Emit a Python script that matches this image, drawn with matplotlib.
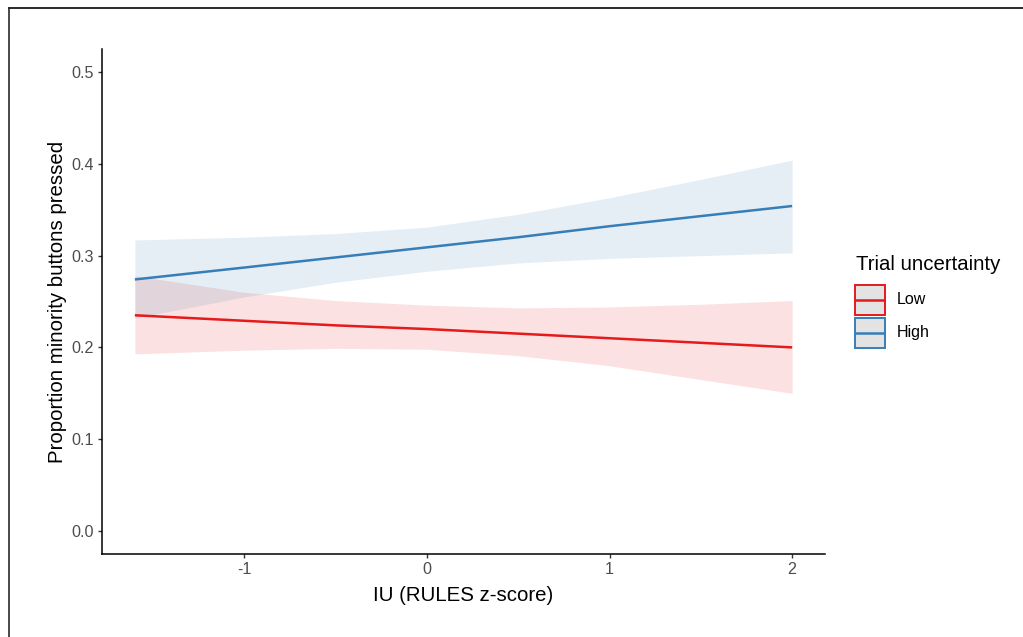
import matplotlib
matplotlib.use("Agg")
import matplotlib.pyplot as plt
from matplotlib.patches import Rectangle
from matplotlib.lines import Line2D

plt.rcParams['font.family'] = ['Liberation Sans', 'DejaVu Sans']

# ---- data ----
x_vals = [-1.6, -1.0, -0.5, 0.0, 0.5, 1.0, 1.5, 2.0]
high_fit = [0.274, 0.287, 0.298, 0.309, 0.320, 0.332, 0.343, 0.354]
high_lo = [0.232, 0.255, 0.271, 0.283, 0.292, 0.297, 0.300, 0.303]
high_hi = [0.317, 0.320, 0.324, 0.331, 0.345, 0.363, 0.383, 0.404]
low_fit = [0.235, 0.229, 0.224, 0.220, 0.215, 0.210, 0.205, 0.200]
low_lo = [0.193, 0.197, 0.199, 0.198, 0.191, 0.180, 0.165, 0.150]
low_hi = [0.278, 0.260, 0.251, 0.246, 0.243, 0.244, 0.247, 0.251]

series_labels = ['Low', 'High']
series_colors = ['#E41A1C', '#377EB8']
x_ticks = [-1, 0, 1, 2]
y_ticks = [0.0, 0.1, 0.2, 0.3, 0.4, 0.5]
x_title = 'IU (RULES z-score)'
y_title = 'Proportion minority buttons pressed'
legend_title = 'Trial uncertainty'

W, H = 1023, 637
fig = plt.figure(figsize=(W / 100, H / 100), dpi=100)

def fx(px):
    return px / W

def fy(py):
    return 1 - py / H

ax = fig.add_axes([fx(102), fy(554), fx(825) - fx(102), fy(49) - fy(554)])

series = [(low_fit, low_lo, low_hi), (high_fit, high_lo, high_hi)]
for (fit, lo, hi), col in zip(series, series_colors):
    ax.fill_between(x_vals, lo, hi, color=col, alpha=0.13, lw=0)
for (fit, lo, hi), col in zip(series, series_colors):
    ax.plot(x_vals, fit, color=col, lw=1.8, solid_capstyle='butt')

ax.set_xlim(-1.78, 2.18)
ax.set_ylim(-0.025, 0.525)
ax.set_xticks(x_ticks)
ax.set_xticklabels([str(t) for t in x_ticks])
ax.set_yticks(y_ticks)
ax.set_yticklabels([f'{t:.1f}' for t in y_ticks])

for s in ['top', 'right']:
    ax.spines[s].set_visible(False)
for s in ['left', 'bottom']:
    ax.spines[s].set_linewidth(1.1)
    ax.spines[s].set_color('black')
ax.tick_params(axis='both', length=3.0, width=1.0, color='#333333',
               labelsize=11.6, labelcolor='#4D4D4D', pad=3)

ax.set_xlabel(x_title, fontsize=14.7, labelpad=6)
ax.set_ylabel(y_title, fontsize=14.7, labelpad=3)

# ---- legend (ggplot style) ----
fig.text(fx(856), fy(265), legend_title, fontsize=14.7, ha='left', va='center')
key_tops = [285, 318]
for lab, col, top in zip(series_labels, series_colors, key_tops):
    fig.add_artist(Rectangle((fx(855), fy(top + 30)), fx(30), fy(0) - fy(30),
                             transform=fig.transFigure, facecolor='#E3E3E3',
                             edgecolor=col, lw=1.4, alpha=1.0))
    fig.add_artist(Line2D([fx(856), fx(884)], [fy(top + 15), fy(top + 15)],
                          transform=fig.transFigure, color=col, lw=1.8))
    fig.text(fx(897), fy(top + 15), lab, fontsize=11.5, ha='left', va='center')

# ---- screenshot frame (top and left edges) ----
fig.add_artist(Line2D([fx(9), 1.0], [fy(7.5), fy(7.5)], transform=fig.transFigure,
                      color='#2a2a2a', lw=1.4))
fig.add_artist(Line2D([fx(9), fx(9)], [fy(7.5), 0.0], transform=fig.transFigure,
                      color='#2a2a2a', lw=1.2))

fig.savefig('out.png', dpi=100)
